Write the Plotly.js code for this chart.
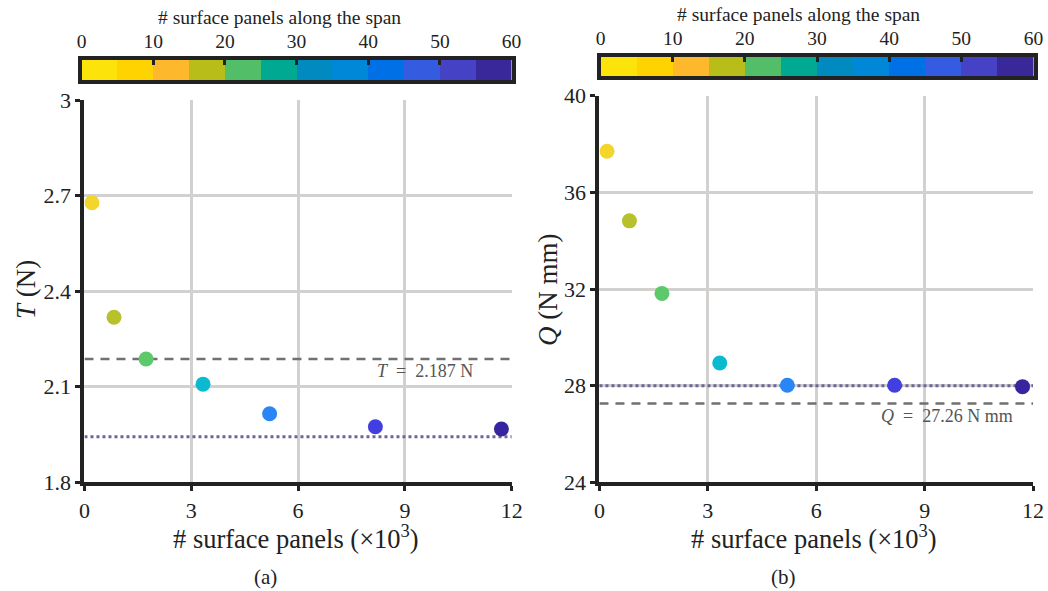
<!DOCTYPE html>
<html>
<head>
<meta charset="utf-8">
<script src="https://cdn.plot.ly/plotly-3.0.1.min.js"></script>
<style>html,body{margin:0;padding:0;background:#fff;}#chart{width:1048px;height:591px;}</style>
</head>
<body>
<div id="chart"></div>
<script>
// ---- data ----
const panelsK = [0.21, 0.83, 1.73, 3.33, 5.20, 8.17, 11.71];          // # surface panels (x10^3)
const thrust = [2.678, 2.318, 2.187, 2.108, 2.015, 1.974, 1.967];      // T (N)
const torque = [37.70, 34.82, 31.82, 28.94, 28.02, 28.02, 27.96];      // Q (N mm)
const pointColors = ['#F3D52B', '#B7C12E', '#5CC96A', '#0CBAD0', '#2B86F5', '#423FE0', '#37259F'];
const refT = 2.187, convT = 1.943;
const refQ = 27.26, convQ = 28.0;
const xTicks = [0, 3, 6, 9, 12];
const tTicks = [1.8, 2.1, 2.4, 2.7, 3];
const qTicks = [24, 28, 32, 36, 40];
const spanBinCenters = [2.5, 7.5, 12.5, 17.5, 22.5, 27.5, 32.5, 37.5, 42.5, 47.5, 52.5, 57.5];
const spanBinColors = ['#FCE30A', '#FFD300', '#FDB92B', '#B8BD1A', '#52BE68', '#00A991',
                       '#008AC0', '#0088D8', '#0070E6', '#355CE0', '#4542C6', '#38289A'];
const spanTicks = [0, 10, 20, 30, 40, 50, 60];

const FONT = 'Liberation Serif, Times New Roman, serif';
const AX = '#222222', GRID = '#D3D0D0';

function mainAxisX(domain) {
  return {domain: domain, range: [0, 12], tickvals: xTicks, ticktext: xTicks.map(String),
    showgrid: true, gridcolor: GRID, gridwidth: 3, zeroline: false, automargin: false,
    showline: true, linecolor: AX, linewidth: 4, ticks: 'outside', ticklen: 5, tickwidth: 3, tickcolor: AX,
    tickfont: {family: FONT, size: 22, color: '#222'}, fixedrange: true};
}
function mainAxisY(domain, range, ticks, anchor) {
  return {domain: domain, range: range, tickvals: ticks, ticktext: ticks.map(String), anchor: anchor,
    showgrid: true, gridcolor: GRID, gridwidth: 3, zeroline: false, automargin: false,
    showline: true, linecolor: AX, linewidth: 4, ticks: 'outside', ticklen: 5, tickwidth: 3, tickcolor: AX,
    tickfont: {family: FONT, size: 22, color: '#222'}, fixedrange: true};
}
function cbAxisX(domain, anchor) {
  return {domain: domain, range: [0, 60], anchor: anchor, side: 'top', tickvals: spanTicks,
    showgrid: false, zeroline: false, showline: true, mirror: true, linecolor: AX, linewidth: 4,
    ticks: 'inside', ticklen: 5, tickwidth: 3, tickcolor: AX, automargin: false,
    tickfont: {family: FONT, size: 19.5, color: '#222'}, fixedrange: true};
}
function cbAxisY(domain, anchor) {
  return {domain: domain, range: [0, 1], anchor: anchor, showgrid: false, zeroline: false, automargin: false,
    showline: true, mirror: true, linecolor: AX, linewidth: 4, ticks: '', showticklabels: false, fixedrange: true};
}

const xL = [0.0806, 0.4883], xR = [0.5720, 0.9857];
const yL = [0.1841, 0.8305], yR = [0.1838, 0.8381];

const traces = [
  // panel (a)
  {x: [0, 12], y: [refT, refT], xaxis: 'x', yaxis: 'y', mode: 'lines',
   line: {color: '#707070', width: 2.5, dash: '9px,7px'}, hoverinfo: 'skip'},
  {x: [0, 12], y: [convT, convT], xaxis: 'x', yaxis: 'y', mode: 'lines',
   line: {color: '#6B6599', width: 3, dash: '3px,3px'}, hoverinfo: 'skip'},
  {x: panelsK, y: thrust, xaxis: 'x', yaxis: 'y', mode: 'markers',
   marker: {size: 15, color: pointColors, line: {width: 0}}},
  // panel (b)
  {x: [0, 12], y: [convQ, convQ], xaxis: 'x2', yaxis: 'y2', mode: 'lines',
   line: {color: '#6B6599', width: 3, dash: '3px,3px'}, hoverinfo: 'skip'},
  {x: [0, 12], y: [refQ, refQ], xaxis: 'x2', yaxis: 'y2', mode: 'lines',
   line: {color: '#707070', width: 2.5, dash: '9px,7px'}, hoverinfo: 'skip'},
  {x: panelsK, y: torque, xaxis: 'x2', yaxis: 'y2', mode: 'markers',
   marker: {size: 15, color: pointColors, line: {width: 0}}},
  // colour bars
  {type: 'bar', x: spanBinCenters, y: spanBinCenters.map(() => 1), width: 5, xaxis: 'x3', yaxis: 'y3',
   marker: {color: spanBinColors, line: {width: 0}}, hoverinfo: 'skip'},
  {type: 'bar', x: spanBinCenters, y: spanBinCenters.map(() => 1), width: 5, xaxis: 'x4', yaxis: 'y4',
   marker: {color: spanBinColors, line: {width: 0}}, hoverinfo: 'skip'}
];

const ann = (text, px, py, size, extra) => Object.assign({text: text, x: px / 1048, y: 1 - py / 591,
  xref: 'paper', yref: 'paper', xanchor: 'center', yanchor: 'middle',
  showarrow: false, font: {family: FONT, size: size, color: '#222'}}, extra || {});

const layout = {
  width: 1048, height: 591, margin: {l: 0, r: 0, t: 0, b: 0, autoexpand: false},
  paper_bgcolor: '#fff', plot_bgcolor: '#fff', showlegend: false, bargap: 0,
  xaxis: mainAxisX(xL), yaxis: mainAxisY(yL, [1.8, 3], tTicks, 'x'),
  xaxis2: Object.assign(mainAxisX(xR), {anchor: 'y2'}), yaxis2: mainAxisY(yR, [24, 40], qTicks, 'x2'),
  xaxis3: cbAxisX([0.0779, 0.4881], 'y3'), yaxis3: cbAxisY([0.8646, 0.8985], 'x3'),
  xaxis4: cbAxisX([0.5730, 0.9862], 'y4'), yaxis4: cbAxisY([0.8706, 0.9036], 'x4'),
  annotations: [
    ann('# surface panels along the span', 279, 18, 19.5),
    ann('# surface panels along the span', 798, 15, 19.5),
    ann('<i>T</i> (N)', 26, 290, 27, {textangle: -90}),
    ann('<i>Q</i> (N mm)', 548, 290, 27, {textangle: -90}),
    ann('# surface panels (×10<sup>3</sup>)', 295.5, 537, 26.5),
    ann('# surface panels (×10<sup>3</sup>)', 813.5, 537, 26.5),
    ann('(a)', 265, 577, 21),
    ann('(b)', 783, 577, 21),
    {text: '<i>T</i>  =  2.187 N', x: 10.97, y: 2.149, xref: 'x', yref: 'y', showarrow: false,
     font: {family: FONT, size: 18, color: '#555'}, xanchor: 'right', yanchor: 'middle'},
    {text: '<i>Q</i>  =  27.26 N mm', x: 11.51, y: 26.75, xref: 'x2', yref: 'y2', showarrow: false,
     font: {family: FONT, size: 18, color: '#555'}, xanchor: 'right', yanchor: 'middle'}
  ]
};

Plotly.newPlot('chart', traces, layout, {staticPlot: true, displayModeBar: false});
</script>
</body>
</html>
